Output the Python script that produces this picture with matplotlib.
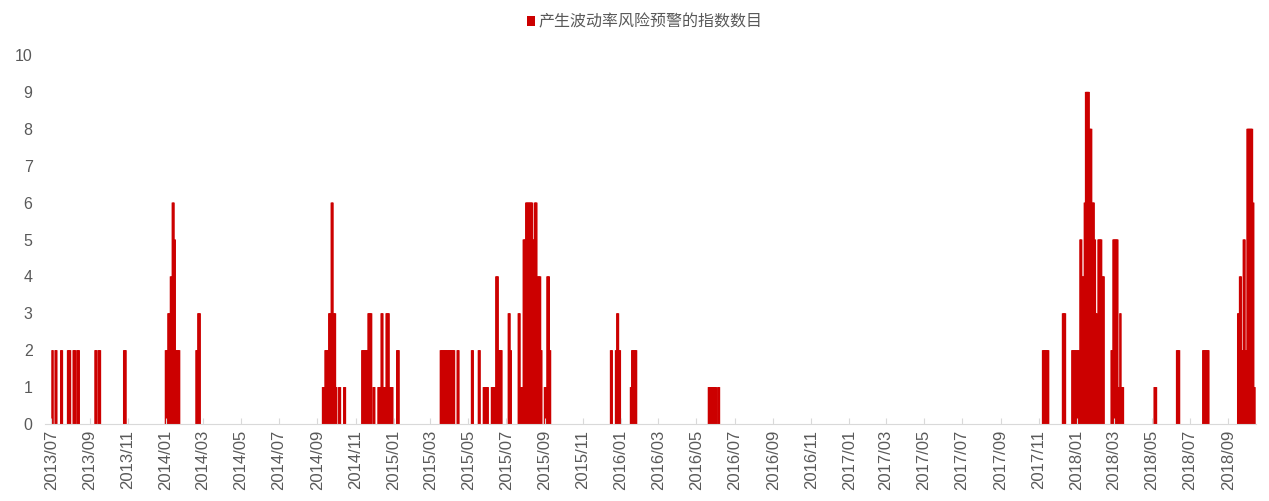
import pandas as pd
import matplotlib
matplotlib.use('Agg')
import matplotlib.pyplot as plt
import matplotlib.dates as mdates

plt.rcParams['font.family'] = ['Liberation Sans', 'Noto Sans CJK SC', 'DejaVu Sans']

# runs of days with the same number of indices flagged
run_start = ['2013-07-01', '2013-07-06', '2013-07-15', '2013-07-26', '2013-08-04', '2013-08-10',
             '2013-09-08', '2013-09-13', '2013-10-24', '2013-12-30', '2014-01-03', '2014-01-07',
             '2014-01-10', '2014-01-13', '2014-01-15', '2014-02-17', '2014-02-20',
             '2014-09-08', '2014-09-12', '2014-09-18', '2014-09-22', '2014-09-25', '2014-09-29',
             '2014-10-04', '2014-10-12', '2014-11-10', '2014-11-20', '2014-11-28', '2014-12-06',
             '2014-12-11', '2014-12-14', '2014-12-19', '2014-12-24', '2015-01-05',
             '2015-03-16', '2015-04-12', '2015-05-05', '2015-05-16', '2015-05-24', '2015-06-06',
             '2015-06-13', '2015-06-17', '2015-07-03', '2015-07-06', '2015-07-19', '2015-07-22',
             '2015-07-27', '2015-07-31', '2015-08-11', '2015-08-14', '2015-08-18', '2015-08-24',
             '2015-08-30', '2015-09-03', '2015-09-07',
             '2015-12-14', '2015-12-22', '2015-12-24', '2015-12-27', '2016-01-15', '2016-01-17',
             '2016-05-19', '2016-06-03',
             '2017-11-06', '2017-12-08', '2017-12-23', '2018-01-05', '2018-01-08', '2018-01-12',
             '2018-01-14', '2018-01-20', '2018-01-24', '2018-01-28', '2018-01-30', '2018-02-02',
             '2018-02-03', '2018-02-09', '2018-02-24', '2018-02-27', '2018-03-07', '2018-03-10',
             '2018-03-12', '2018-05-04', '2018-06-09', '2018-07-21', '2018-09-15', '2018-09-18',
             '2018-09-21', '2018-09-24', '2018-09-27', '2018-09-30', '2018-10-09', '2018-10-11']
run_end = ['2013-07-02', '2013-07-08', '2013-07-17', '2013-07-30', '2013-08-07', '2013-08-13',
           '2013-09-10', '2013-09-16', '2013-10-27', '2014-01-02', '2014-01-06', '2014-01-09',
           '2014-01-12', '2014-01-14', '2014-01-21', '2014-02-19', '2014-02-23',
           '2014-09-11', '2014-09-17', '2014-09-21', '2014-09-24', '2014-09-28', '2014-09-30',
           '2014-10-06', '2014-10-14', '2014-11-19', '2014-11-25', '2014-11-30', '2014-12-10',
           '2014-12-13', '2014-12-18', '2014-12-23', '2014-12-29', '2015-01-08',
           '2015-04-07', '2015-04-14', '2015-05-07', '2015-05-18', '2015-05-31', '2015-06-12',
           '2015-06-16', '2015-06-22', '2015-07-05', '2015-07-07', '2015-07-21', '2015-07-26',
           '2015-07-30', '2015-08-10', '2015-08-13', '2015-08-17', '2015-08-23', '2015-08-25',
           '2015-09-02', '2015-09-06', '2015-09-08',
           '2015-12-16', '2015-12-23', '2015-12-26', '2015-12-29', '2016-01-16', '2016-01-24',
           '2016-05-31', '2016-06-05',
           '2017-11-15', '2017-12-12', '2018-01-04', '2018-01-07', '2018-01-11', '2018-01-13',
           '2018-01-19', '2018-01-23', '2018-01-27', '2018-01-29', '2018-02-01', '2018-02-02',
           '2018-02-08', '2018-02-12', '2018-02-26', '2018-03-06', '2018-03-09', '2018-03-11',
           '2018-03-15', '2018-05-07', '2018-06-13', '2018-07-30', '2018-09-17', '2018-09-20',
           '2018-09-23', '2018-09-26', '2018-09-29', '2018-10-08', '2018-10-10', '2018-10-12']
run_count = [2, 2, 2, 2, 2, 2, 2, 2, 2, 2, 3, 4, 6, 5, 2, 2, 3,
             1, 2, 3, 6, 3, 1, 1, 1, 2, 3, 1, 1, 3, 1, 3, 1, 2,
             2, 2, 2, 2, 1, 1, 4, 2, 3, 2, 3, 1, 5, 6, 5, 6, 4, 2, 1, 4, 2,
             2, 2, 3, 2, 1, 2, 1, 1,
             2, 3, 2, 5, 4, 6, 9, 8, 6, 5, 3, 2, 5, 4, 2, 5, 1, 3, 1,
             1, 2, 2, 3, 4, 2, 5, 2, 8, 6, 1]

series_name = '产生波动率风险预警的指数数目'

counts = pd.Series(0, index=pd.date_range('2013-07-01', '2018-10-12', freq='D'))
for s, e, v in zip(run_start, run_end, run_count):
    counts[s:e] = v

fig = plt.figure(figsize=(12.69, 5.01), dpi=100)
ax = fig.add_axes([0.0355, 0.1537, 0.9545, 0.7365])

# bars a little wider than one day so short spikes stay visible, as in the original
ax.bar(counts.index, counts.values, width=3.0, align='edge', color='#cc0000',
       linewidth=0, label=series_name, snap=False)

ax.set_xlim(mdates.date2num(pd.Timestamp('2013-06-21')), mdates.date2num(pd.Timestamp('2018-10-16')))
ax.set_ylim(0, 10)
ax.set_yticks(range(0, 11))

ax.xaxis.set_major_locator(mdates.MonthLocator(bymonth=[1, 3, 5, 7, 9, 11]))
ax.xaxis.set_major_formatter(mdates.DateFormatter('%Y/%m'))
ax.tick_params(axis='x', direction='in', length=4, color='#d9d9d9', labelsize=12,
               labelcolor='#595959', labelrotation=90, pad=4)
ax.tick_params(axis='y', length=0, labelsize=11.5, labelcolor='#595959', pad=9)

for side in ['top', 'right', 'left']:
    ax.spines[side].set_visible(False)
ax.spines['bottom'].set_color('#d9d9d9')

fig.legend(loc='upper center', bbox_to_anchor=(0.508, 1.0), frameon=False,
           fontsize=11.5, labelcolor='#595959', handlelength=0.55, handleheight=0.55,
           handletextpad=0.2)

plt.savefig('out.png', dpi=100)
